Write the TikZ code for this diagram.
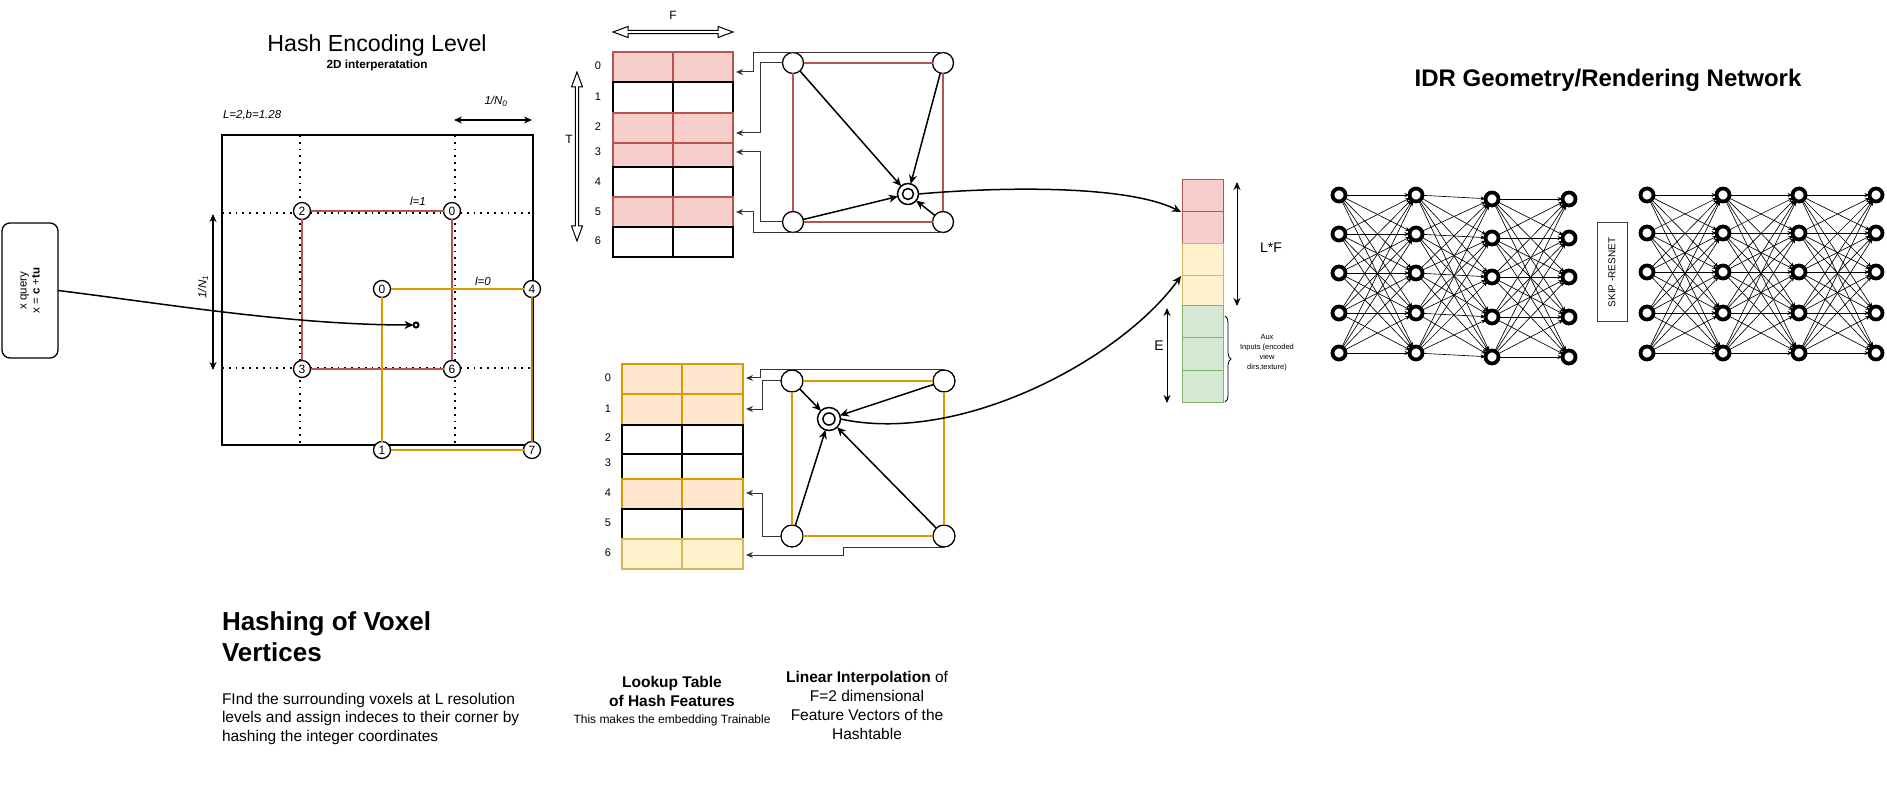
\documentclass[tikz,border=0pt]{standalone}
\usepackage{fontspec}
\setmainfont{Liberation Sans}
\usetikzlibrary{arrows.meta,decorations.pathreplacing}
\definecolor{redfill}{HTML}{F8CECC}
\definecolor{redline}{HTML}{B85450}
\definecolor{orfill}{HTML}{FFE6CC}
\definecolor{orline}{HTML}{D79B00}
\definecolor{yefill}{HTML}{FFF2CC}
\definecolor{yeline}{HTML}{D6B656}
\definecolor{grfill}{HTML}{D5E8D4}
\definecolor{grline}{HTML}{82B366}
\definecolor{conn}{HTML}{333333}
\newcommand\myfs[2]{\fontsize{#1}{#2}\selectfont}
\begin{document}
\begin{tikzpicture}[x=1pt,y=-1pt,
  every node/.style={inner sep=0pt,outer sep=0pt},
  gv/.style={circle,draw,fill=white,line width=1.3pt,minimum size=17pt,font=\myfs{12}{14}},
  tv/.style={circle,draw,fill=white,line width=1.3pt,minimum size=21pt},
  dcout/.style={circle,draw,fill=white,line width=1.5pt},
  dcin/.style={circle,draw,line width=1.5pt},
  nn/.style={circle,draw,fill=white,line width=3.8pt,minimum size=13pt},
  nnedge/.style={line width=0.65pt,-{Stealth[length=5pt,width=4pt]}},
  arr/.style={line width=1.5pt,-{Stealth[length=9pt,width=8pt]}},
  dim/.style={line width=1.3pt,{Stealth[length=8pt,width=7pt]}-{Stealth[length=8pt,width=7pt]}},
  tconn/.style={draw=conn,line width=1pt,-{Stealth[length=7pt,width=6pt]}},
  lbl/.style={font=\myfs{11.5}{13}},
  hollow/.style={draw,line width=1pt,fill=white},
]
\useasboundingbox (0,0) rectangle (1887,799);
\fill[white] (0,0) rectangle (1887,799);

% ---------- titles ----------
\node[font=\myfs{23.2}{27},anchor=base] (t1) at (377,52) {Hash Encoding Level};
\node[font=\myfs{11.8}{13}\bfseries,anchor=base] (t2) at (377,69) {2D interperatation};
\node[font=\myfs{24}{28}\bfseries,anchor=base] (t3) at (1608,87) {IDR Geometry/Rendering Network};

% ---------- hash grid ----------
\draw[line width=1.5pt] (222,135) rectangle (533,445);
\draw[line width=1.8pt,dash pattern=on 1.8pt off 5pt] (300,135) -- (300,445);
\draw[line width=1.8pt,dash pattern=on 1.8pt off 5pt] (455,135) -- (455,445);
\draw[line width=1.8pt,dash pattern=on 1.8pt off 5pt] (222,213) -- (533,213);
\draw[line width=1.8pt,dash pattern=on 1.8pt off 5pt] (222,368) -- (533,368);

\node[gv] (h2) at (302,211) {2};
\node[gv] (h0r) at (452,211) {0};
\node[gv] (h3) at (302,369) {3};
\node[gv] (h6) at (452,369) {6};
\node[gv] (h0o) at (382,289) {0};
\node[gv] (h4) at (532,289) {4};
\node[gv] (h1) at (382,450) {1};
\node[gv] (h7) at (532,450) {7};
\draw[redline,line width=2.2pt] (h2) -- (h0r);
\draw[redline,line width=2.2pt] (h0r) -- (h6);
\draw[redline,line width=2.2pt] (h6) -- (h3);
\draw[redline,line width=2.2pt] (h3) -- (h2);
\draw[orline,line width=2pt] (h0o) -- (h4);
\draw[orline!80!black,line width=2pt] (h4) -- (h7);
\draw[orline,line width=2pt] (h7) -- (h1);
\draw[orline,line width=2pt] (h1) -- (h0o);

\node[circle,draw,fill=white,line width=2pt,minimum size=5pt] (q) at (416,325) {};

\node[lbl,anchor=west] (lb) at (223,115) {\itshape L=2,b=1.28};
\node[lbl] (l1) at (418,201) {\itshape l=1};
\node[lbl] (l0) at (483,281) {\itshape l=0};

\coordinate (n0a) at (454,120);
\coordinate (n0b) at (532,120);
\draw[dim] (n0a) -- (n0b);
\node[lbl] (n0l) at (496,101) {\itshape 1/N\textsubscript{0}};
\coordinate (n1a) at (213,214);
\coordinate (n1b) at (213,370);
\draw[dim] (n1a) -- (n1b);
\node[lbl,rotate=90] (n1l) at (203,287) {\itshape 1/N\textsubscript{1}};

% x query
\node[draw,rounded corners=8pt,line width=1.3pt,rotate=90,minimum width=135pt,minimum height=56pt,align=center,font=\myfs{11.5}{13}] (xq) at (30,290.5) {x query\\x = \textbf{c} +\textbf{tu}};
\draw[arr] (xq.south) .. controls (160,303) and (290,325) .. (q.west);

% ---------- top lookup table ----------
\draw[hollow] (613,32) -- (628,26.5) -- (628,30.3) -- (718,30.3) -- (718,26.5) -- (733,32) -- (718,37.5) -- (718,33.7) -- (628,33.7) -- (628,37.5) -- cycle;
\node[font=\myfs{12}{14}] (Fl) at (673,15) {F};
\draw[hollow] (577,72) -- (571.5,87) -- (575.3,87) -- (575.3,226) -- (571.5,226) -- (577,241) -- (582.5,226) -- (578.7,226) -- (578.7,87) -- (582.5,87) -- cycle;
\node[font=\myfs{12}{14}] (Tl) at (569,139) {T};

\foreach \ya/\yb/\fc/\dc in {52/82/redfill/redline,82/113/white/black,113/143/redfill/redline,143/167/redfill/redline,167/197/white/black,197/227/redfill/redline,227/257/white/black}{
  \draw[fill=\fc,draw=\dc,line width=1.6pt] (613,\ya) rectangle (673,\yb);
  \draw[fill=\fc,draw=\dc,line width=1.6pt] (673,\ya) rectangle (733,\yb);
}
\foreach \t/\y in {0/66,1/97,2/127,3/152,4/182,5/212,6/241}
  \node[font=\myfs{11}{13}] (ta\t) at (598,\y) {\t};

% top graph
\node[tv] (atl) at (793,63) {};
\node[tv] (atr) at (943,63) {};
\node[tv] (abl) at (793,222) {};
\node[tv] (abr) at (943,222) {};
\node[dcout,minimum size=21pt] (adc) at (908,194) {};
\node[dcin,minimum size=11pt] (adci) at (adc) {};
\draw[redline,line width=1.5pt] (atl) -- (atr);
\draw[redline,line width=1.5pt] (atr) -- (abr);
\draw[redline,line width=1.5pt] (abr) -- (abl);
\draw[redline,line width=1.5pt] (abl) -- (atl);
\draw[arr] (atl) -- (adc);
\draw[arr] (atr) -- (adc);
\draw[arr] (abl) -- (adc);
\draw[arr] (abr) -- (adc);
\coordinate (ea0) at (736,72);
\coordinate (ea2) at (736,133);
\coordinate (ea3) at (736,152);
\coordinate (ea5) at (736,212);
\draw[tconn] (atr.north) -| (753,72) -- (ea0);
\draw[tconn] (atl.west) -| (760,133) -- (ea2);
\draw[tconn] (abl.west) -| (760,152) -- (ea3);
\draw[tconn] (abr.south) -| (753,212) -- (ea5);

% ---------- bottom lookup table ----------
\foreach \ya/\yb/\fc/\dc in {364/394/orfill/orline,394/425/orfill/orline,425/454/white/black,454/479/white/black,479/509/orfill/orline,509/539/white/black,539/569/yefill/yeline}{
  \draw[fill=\fc,draw=\dc,line width=1.6pt] (622,\ya) rectangle (682,\yb);
  \draw[fill=\fc,draw=\dc,line width=1.6pt] (682,\ya) rectangle (743,\yb);
}
\foreach \t/\y in {0/378,1/409,2/438,3/463,4/493,5/523,6/553}
  \node[font=\myfs{11}{13}] (tb\t) at (608,\y) {\t};

\node[tv,minimum size=22pt] (btl) at (792,381) {};
\node[tv,minimum size=22pt] (btr) at (944,381) {};
\node[tv,minimum size=22pt] (bbl) at (792,536) {};
\node[tv,minimum size=22pt] (bbr) at (944,536) {};
\node[dcout,minimum size=23pt] (bdc) at (829,419) {};
\node[dcin,minimum size=12pt] (bdci) at (bdc) {};
\draw[orline,line width=1.5pt] (btl) -- (btr);
\draw[orline,line width=1.5pt] (btr) -- (bbr);
\draw[orline,line width=1.5pt] (bbr) -- (bbl);
\draw[orline,line width=1.5pt] (bbl) -- (btl);
\draw[arr] (btl) -- (bdc);
\draw[arr] (btr) -- (bdc);
\draw[arr] (bbl) -- (bdc);
\draw[arr] (bbr) -- (bdc);
\coordinate (eb0) at (746,378);
\coordinate (eb1) at (746,409);
\coordinate (eb4) at (746,493);
\coordinate (eb6) at (746,555);
\draw[tconn] (btr.north) -| (760,378) -- (eb0);
\draw[tconn] (btl.west) -| (762,409) -- (eb1);
\draw[tconn] (bbl.west) -| (762,493) -- (eb4);
\draw[tconn] (bbr.south) -| (843,555) -- (eb6);

% ---------- feature vector ----------
\foreach \ya/\yb/\fc/\dc in {180/212/redfill/redline,212/244/redfill/redline,244/276/yefill/yeline,276/306/yefill/yeline,306/338/grfill/grline,338/371/grfill/grline,371/402/grfill/grline}
  \draw[fill=\fc,draw=\dc,line width=1pt] (1182,\ya) rectangle (1223,\yb);
\coordinate (fv1) at (1181,212);
\coordinate (fv3) at (1181,276);
\draw[arr] (adc.east) .. controls (1010,186) and (1130,186) .. (fv1);
\draw[arr] (bdc.east) .. controls (960,445) and (1120,360) .. (fv3);

\coordinate (lfa) at (1237,182);
\coordinate (lfb) at (1237,306);
\draw[dim,line width=1pt] (lfa) -- (lfb);
\node[font=\myfs{14}{16}] (lfl) at (1271,248) {L*F};
\coordinate (ea) at (1167,308);
\coordinate (eb) at (1167,403);
\draw[dim,line width=1pt] (ea) -- (eb);
\node[font=\myfs{14}{16}] (el) at (1159,346) {E};
\coordinate (bra) at (1225,316);
\coordinate (brb) at (1225,402);
\draw[line width=0.8pt,decorate,decoration={brace,amplitude=6pt}] (bra) -- (brb);
\node[font=\myfs{7.5}{10},align=center] (aux) at (1267,353) {Aux\\Inputs (encoded\\view\\dirs,texture)};

% ---------- networks ----------
\foreach \c/\x/\dy in {1/1339/0,2/1416/0,3/1492/4,4/1569/4}{
  \foreach \r/\y in {1/195,2/234,3/273,4/313,5/353}{
    \node[nn] (a\c\r) at (\x,\y+\dy) {};
  }
}
\foreach \c/\x in {1/1647,2/1723,3/1799,4/1876}{
  \foreach \r/\y in {1/195,2/233,3/272,4/313,5/353}{
    \node[nn] (b\c\r) at (\x,\y) {};
  }
}
\foreach \c/\d in {1/2,2/3,3/4}{
  \foreach \r in {1,...,5}{
    \foreach \s in {1,...,5}{
      \draw[nnedge] (a\c\r) -- (a\d\s);
      \draw[nnedge] (b\c\r) -- (b\d\s);
    }
  }
}
\node[draw=black!75,line width=1pt,rotate=90,minimum width=99pt,minimum height=30pt,font=\myfs{10}{12}] (skip) at (1612,272.5) {SKIP -RESNET};

% ---------- bottom texts ----------
\node[font=\myfs{26}{31}\bfseries,align=left,anchor=north west] (hv) at (222,612) {Hashing of Voxel\\Vertices};
\node[font=\myfs{15.5}{18.5},align=left,anchor=north west] (hvd) at (222,693) {FInd the surrounding voxels at L resolution\\levels and assign indeces to their corner by\\hashing the integer coordinates};
\node[font=\myfs{15.5}{19}\bfseries,align=center,anchor=north] (lt) at (672,676) {Lookup Table\\of Hash Features};
\node[font=\myfs{12}{14},anchor=north] (lts) at (672,715) {This makes the embedding Trainable};
\node[font=\myfs{15.5}{19},align=center,anchor=north] (li) at (867,671) {\textbf{Linear Interpolation} of\\F=2 dimensional\\Feature Vectors of the\\Hashtable};
\end{tikzpicture}
\end{document}
